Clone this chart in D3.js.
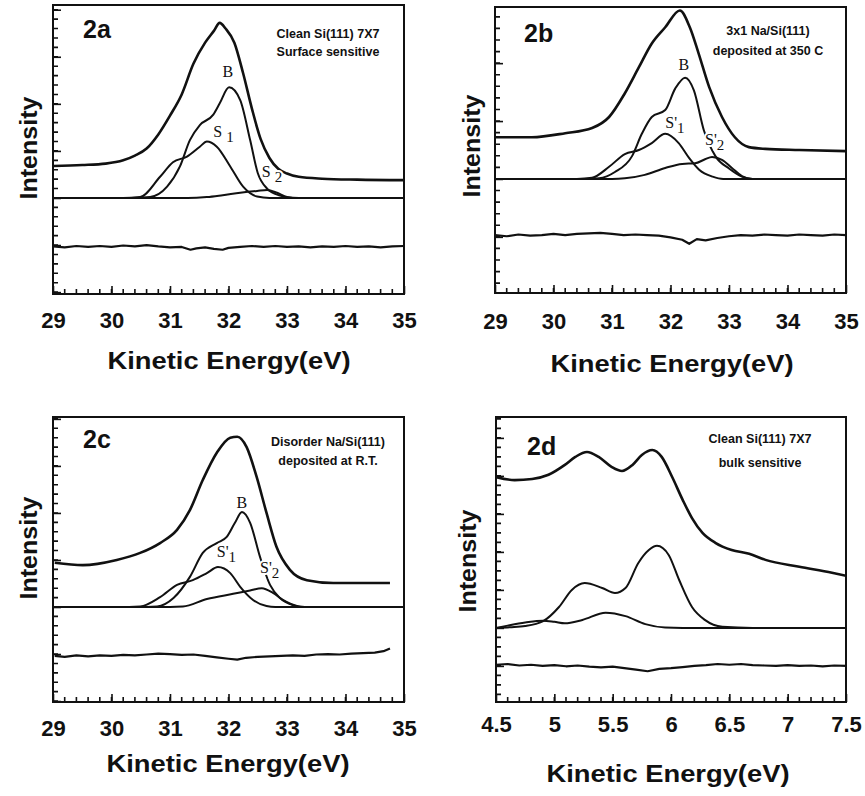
<!DOCTYPE html>
<html>
<head>
<meta charset="utf-8">
<script src="https://cdn.jsdelivr.net/npm/d3@7"></script>
<style>
  body { margin: 0; background: #fff; }
  text, tspan { fill: #111; }
</style>
</head>
<body>
<div id="chart"></div>
<script>
// ---- tick values / labels ----
var ticksSi = [29, 30, 31, 32, 33, 34, 35];
var ticksSiLabels = ["29", "30", "31", "32", "33", "34", "35"];
var ticksBulk = [4.5, 5, 5.5, 6, 6.5, 7, 7.5];
var ticksBulkLabels = ["4.5", "5", "5.5", "6", "6.5", "7", "7.5"];

// ---- 2a : clean Si(111) 7x7, surface sensitive ----
var aTotal = [[29.0,0.68],[29.5,0.7],[29.9,0.73],[30.2,0.8],[30.4,0.9],[30.6,1.05],[30.8,1.35],[31.0,1.75],[31.2,2.2],[31.4,2.85],[31.6,3.3],[31.75,3.55],[31.85,3.72],[31.95,3.6],[32.1,3.3],[32.25,2.65],[32.4,1.9],[32.55,1.25],[32.7,0.85],[32.85,0.62],[33.0,0.52],[33.2,0.45],[33.6,0.41],[34.2,0.39],[35.0,0.38]];
var aB = [[29.0,0],[30.3,0],[30.66,0.02],[30.95,0.24],[31.17,0.67],[31.34,1.23],[31.51,1.55],[31.74,1.77],[31.85,2.01],[32.01,2.35],[32.2,2.08],[32.37,1.23],[32.5,0.53],[32.66,0.2],[32.88,0.05],[33.1,0],[35.0,0]];
var aS1 = [[29.0,0],[30.2,0],[30.49,0.02],[30.83,0.45],[31.05,0.76],[31.29,0.88],[31.51,1.09],[31.63,1.2],[31.8,1.09],[32.03,0.67],[32.25,0.24],[32.49,0.03],[32.7,0],[35.0,0]];
var aS2 = [[29.0,0],[31.3,0],[31.63,0.02],[31.9,0.06],[32.2,0.11],[32.49,0.15],[32.66,0.17],[32.83,0.11],[33.0,0.02],[33.2,0],[35.0,0]];
var aRes = [[29.0,-1.03],[29.2,-1.05],[29.4,-1.02],[29.6,-1.04],[29.8,-1.02],[30.0,-1.04],[30.2,-1.01],[30.4,-1.03],[30.6,-1.0],[30.8,-1.03],[31.0,-1.05],[31.2,-1.04],[31.35,-1.1],[31.45,-1.07],[31.6,-1.05],[31.75,-1.08],[31.9,-1.1],[32.0,-1.06],[32.2,-1.04],[32.4,-1.02],[32.6,-1.04],[32.8,-1.02],[33.0,-1.04],[33.2,-1.03],[33.4,-1.05],[33.6,-1.03],[33.8,-1.04],[34.0,-1.02],[34.2,-1.04],[34.4,-1.03],[34.6,-1.05],[34.8,-1.03],[35.0,-1.02]];
var aPeakLabels = [["B","",31.99,2.57],["S ","1",31.74,1.3],["S ","2",32.57,0.45]];

// ---- 2b : 3x1 Na/Si(111) ----
var bTotal = [[29.0,0.72],[29.63,0.72],[30.2,0.79],[30.66,0.88],[30.95,1.07],[31.22,1.48],[31.46,1.93],[31.68,2.34],[31.91,2.62],[32.16,2.91],[32.33,2.62],[32.48,2.17],[32.66,1.59],[32.88,1.07],[33.1,0.72],[33.34,0.55],[33.62,0.52],[34.2,0.5],[35.0,0.48]];
var bB = [[29.0,0],[30.6,0],[30.78,0.01],[31.05,0.12],[31.34,0.39],[31.51,0.78],[31.68,1.07],[31.91,1.19],[32.08,1.56],[32.25,1.75],[32.4,1.53],[32.57,0.84],[32.77,0.39],[33.0,0.18],[33.22,0.04],[33.4,0],[35.0,0]];
var bS1 = [[29.0,0],[30.4,0],[30.66,0.02],[30.95,0.21],[31.22,0.43],[31.46,0.5],[31.68,0.62],[31.91,0.78],[32.14,0.62],[32.32,0.36],[32.49,0.16],[32.72,0.04],[32.9,0],[35.0,0]];
var bS2 = [[29.0,0],[31.0,0],[31.22,0.01],[31.56,0.07],[31.91,0.19],[32.2,0.26],[32.42,0.27],[32.59,0.34],[32.71,0.38],[32.88,0.33],[33.05,0.19],[33.22,0.05],[33.4,0],[35.0,0]];
var bRes = [[29.0,-0.97],[29.2,-0.99],[29.4,-0.96],[29.6,-0.98],[29.8,-0.97],[30.0,-0.95],[30.2,-0.97],[30.4,-0.95],[30.6,-0.94],[30.8,-0.93],[31.0,-0.95],[31.2,-0.97],[31.4,-0.96],[31.6,-0.97],[31.8,-0.98],[32.0,-1.01],[32.2,-1.05],[32.32,-1.12],[32.45,-1.04],[32.6,-1.06],[32.8,-1.02],[33.0,-0.99],[33.2,-0.97],[33.4,-0.98],[33.6,-0.96],[33.8,-0.97],[34.0,-0.98],[34.2,-0.96],[34.4,-0.97],[34.6,-0.98],[34.8,-0.96],[35.0,-0.97]];
var bPeakLabels = [["B","",32.23,1.88],["S'","1",31.91,0.88],["S'","2",32.59,0.59]];

// ---- 2c : disorder Na/Si(111) ----
var cTotal = [[29.03,0.94],[29.51,0.89],[30.09,1.0],[30.49,1.15],[30.83,1.36],[31.12,1.64],[31.34,2.06],[31.56,2.7],[31.8,3.28],[32.03,3.6],[32.15,3.62],[32.31,3.4],[32.48,2.77],[32.65,2.0],[32.82,1.28],[33.05,0.79],[33.34,0.57],[33.79,0.51],[34.37,0.51],[34.76,0.51]];
var cB = [[29.0,0],[30.6,0],[30.78,0.01],[31.06,0.19],[31.34,0.64],[31.56,1.15],[31.8,1.36],[31.97,1.49],[32.11,1.79],[32.23,2.02],[32.37,1.79],[32.54,1.06],[32.71,0.47],[32.88,0.19],[33.1,0.04],[33.3,0],[35.0,0]];
var cS1 = [[29.0,0],[30.3,0],[30.49,0.01],[30.83,0.21],[31.12,0.47],[31.39,0.57],[31.63,0.72],[31.82,0.85],[32.03,0.72],[32.2,0.43],[32.42,0.15],[32.65,0.02],[32.8,0],[35.0,0]];
var cS2 = [[29.0,0],[31.0,0],[31.22,0.01],[31.63,0.17],[32.08,0.28],[32.37,0.35],[32.57,0.4],[32.76,0.3],[32.93,0.15],[33.17,0.02],[33.3,0],[35.0,0]];
var cRes = [[29.03,-1.04],[29.2,-1.06],[29.4,-1.03],[29.6,-1.05],[29.8,-1.03],[30.0,-1.04],[30.2,-1.02],[30.4,-1.03],[30.6,-1.01],[30.8,-0.99],[31.0,-1.0],[31.2,-1.02],[31.4,-1.01],[31.6,-1.04],[31.8,-1.07],[32.0,-1.1],[32.15,-1.12],[32.3,-1.08],[32.5,-1.06],[32.7,-1.05],[32.9,-1.04],[33.1,-1.03],[33.3,-1.04],[33.5,-1.01],[33.7,-1.0],[33.9,-1.01],[34.1,-0.99],[34.3,-0.98],[34.5,-0.97],[34.65,-0.94],[34.76,-0.88]];
var cPeakLabels = [["B","",32.23,2.1],["S'","1",31.8,1.06],["S'","2",32.54,0.72]];

// ---- 2d : clean Si(111) 7x7, bulk sensitive ----
var dTotal = [[4.5,3.97],[4.66,3.89],[4.81,3.92],[4.95,4.03],[5.09,4.29],[5.18,4.5],[5.28,4.63],[5.38,4.5],[5.49,4.24],[5.58,4.13],[5.67,4.29],[5.75,4.55],[5.84,4.68],[5.92,4.5],[6.01,3.97],[6.1,3.37],[6.18,2.89],[6.27,2.5],[6.38,2.24],[6.52,2.05],[6.67,1.95],[6.81,1.79],[7.1,1.61],[7.38,1.45],[7.5,1.37]];
var dBulk = [[4.5,0],[4.62,0.02],[4.75,0.05],[4.9,0.17],[5.04,0.55],[5.15,1.0],[5.26,1.18],[5.41,1.05],[5.52,0.92],[5.61,1.05],[5.72,1.71],[5.81,2.05],[5.88,2.16],[5.98,1.92],[6.07,1.26],[6.18,0.55],[6.29,0.21],[6.44,0.03],[6.7,0],[7.5,0]];
var dSurf = [[4.5,0],[4.6,0.06],[4.75,0.14],[4.9,0.19],[5.0,0.16],[5.09,0.12],[5.24,0.21],[5.44,0.4],[5.61,0.31],[5.78,0.1],[5.95,0.01],[6.1,0],[7.5,0]];
var dRes = [[4.5,-0.97],[4.6,-0.95],[4.7,-0.99],[4.8,-0.97],[4.9,-1.0],[5.0,-0.98],[5.1,-1.01],[5.2,-0.99],[5.3,-1.02],[5.4,-1.04],[5.5,-1.02],[5.6,-1.06],[5.7,-1.1],[5.8,-1.14],[5.9,-1.08],[6.0,-1.06],[6.1,-1.03],[6.2,-1.0],[6.3,-0.98],[6.4,-0.95],[6.5,-0.97],[6.6,-0.95],[6.7,-0.98],[6.8,-0.99],[6.9,-1.0],[7.0,-0.98],[7.1,-1.0],[7.2,-0.99],[7.3,-1.01],[7.4,-0.99],[7.5,-1.0]];
var dPeakLabels = [];

// ---- layout of the four panels ----
var panels = [
  { tag: "2a", notes: ["Clean Si(111) 7X7", "Surface sensitive"],
    box: {l: 53, r: 404, t: 5, b: 294}, xDom: [29, 35], yDom: [-2.04, 4.1],
    ticks: ticksSi, labels: ticksSiLabels, minorX: 0.2, minorY: 0.2,
    total: aTotal, comps: [aB, aS1, aS2], res: aRes, peaks: aPeakLabels,
    pad: 18, titleY: 369, titleX: 229, intX: 28, intY: 148,
    tagX: 83, tagY: 38, noteX: 328, noteY: [38, 56] },
  { tag: "2b", notes: ["3x1 Na/Si(111)", "deposited at 350 C"],
    box: {l: 495, r: 846, t: 7, b: 293}, xDom: [29, 35], yDom: [-1.97, 2.97],
    ticks: ticksSi, labels: ticksSiLabels, minorX: 0.2, minorY: 0.2,
    total: bTotal, comps: [bB, bS1, bS2], res: bRes, peaks: bPeakLabels,
    pad: 20, titleY: 372, titleX: 672, intX: 471, intY: 146,
    tagX: 524, tagY: 42, noteX: 768, noteY: [35, 55] },
  { tag: "2c", notes: ["Disorder Na/Si(111)", "deposited at R.T."],
    box: {l: 53, r: 404, t: 417, b: 702}, xDom: [29, 35], yDom: [-2.02, 4.04],
    ticks: ticksSi, labels: ticksSiLabels, minorX: 0.2, minorY: 0.2,
    total: cTotal, comps: [cB, cS1, cS2], res: cRes, peaks: cPeakLabels,
    pad: 18, titleY: 772, titleX: 228, intX: 28, intY: 548,
    tagX: 83, tagY: 448, noteX: 328, noteY: [446, 465] },
  { tag: "2d", notes: ["Clean Si(111) 7X7", "bulk sensitive"],
    box: {l: 496, r: 846, t: 417, b: 702}, xDom: [4.5, 7.5], yDom: [-1.95, 5.55],
    ticks: ticksBulk, labels: ticksBulkLabels, minorX: 0.1, minorY: 0.25,
    total: dTotal, comps: [dBulk, dSurf], res: dRes, peaks: dPeakLabels,
    pad: 14, titleY: 782, titleX: 668, intX: 467, intY: 561,
    tagX: 527, tagY: 455, noteX: 760, noteY: [443, 467] }
];

var svg = d3.select("#chart")
              .append("svg")
              .attr("width", 865)
              .attr("height", 796);

var sans = "'Liberation Sans', Arial, Helvetica, sans-serif";

panels.forEach(function (p, i) {
  var x = d3.scaleLinear().domain(p.xDom).range([p.box.l, p.box.r]);
  var y = d3.scaleLinear().domain(p.yDom).range([p.box.b, p.box.t]);
  var g = svg.append("g");

  g.append("clipPath").attr("id", "clip" + i)
    .append("rect")
    .attr("x", p.box.l).attr("y", p.box.t)
    .attr("width", p.box.r - p.box.l).attr("height", p.box.b - p.box.t);

  // minor ticks, pointing into the frame (one path each side)
  var minorX = d3.range(p.xDom[0], p.xDom[1] + 1e-6, p.minorX);
  var minorY = d3.range(Math.ceil(p.yDom[0] / p.minorY) * p.minorY, p.yDom[1], p.minorY);
  var mx = minorX.map(d => `M${x(d)},${p.box.b}v-5`).join("");
  var my = minorY.map(d => `M${p.box.l},${y(d)}h5`).join("");
  g.append("path").attr("d", mx + my)
    .attr("fill", "none").attr("stroke", "#111").attr("stroke-width", 1.6);

  // major ticks with labels
  g.append("g")
    .attr("transform", `translate(0, ${p.box.b})`)
    .call(d3.axisBottom(x).tickValues(p.ticks).tickSize(-8).tickPadding(p.pad)
            .tickFormat((d, k) => p.labels[k]))
    .call(a => a.select(".domain").remove())
    .call(a => a.selectAll("line").attr("stroke", "#111").attr("stroke-width", 1.6))
    .call(a => a.selectAll("text")
                .attr("font-family", sans).attr("font-size", 22)
                .attr("font-weight", "bold").attr("fill", "#111"));
  var majorY = d3.range(Math.ceil(p.yDom[0]), p.yDom[1], 1);
  g.append("g")
    .attr("transform", `translate(${p.box.l}, 0)`)
    .call(d3.axisLeft(y).tickValues(majorY).tickSize(-8).tickFormat(() => ""))
    .call(a => a.select(".domain").remove())
    .call(a => a.selectAll("line").attr("stroke", "#111").attr("stroke-width", 1.6));

  // curves
  var smooth = d3.line().x(d => x(d[0])).y(d => y(d[1])).curve(d3.curveMonotoneX);
  var rough = d3.line().x(d => x(d[0])).y(d => y(d[1]));
  var plot = g.append("g").attr("clip-path", `url(#clip${i})`)
              .attr("fill", "none").attr("stroke", "#111")
              .attr("stroke-linejoin", "round");

  p.comps.forEach(function (c) {
    plot.append("path").attr("d", smooth(c)).attr("stroke-width", 2);
  });
  plot.append("path").attr("d", smooth(p.total)).attr("stroke-width", 2.6);
  plot.append("path").attr("d", rough(p.res)).attr("stroke-width", 2.2);

  // peak labels (serif, with a white halo that breaks the curves)
  p.peaks.forEach(function (k) {
    var t = g.append("text")
      .attr("x", x(k[2])).attr("y", y(k[3]))
      .attr("text-anchor", k[1] ? "start" : "middle")
      .attr("font-family", "'Liberation Serif', 'Times New Roman', serif")
      .attr("font-size", 16).attr("fill", "#111")
      .attr("stroke", "#fff").attr("stroke-width", 4)
      .attr("paint-order", "stroke");
    t.append("tspan").text(k[0]);
    if (k[1]) t.append("tspan").attr("dy", 5).attr("font-size", 15).text(k[1]);
  });

  // frame
  g.append("rect")
    .attr("x", p.box.l).attr("y", p.box.t)
    .attr("width", p.box.r - p.box.l).attr("height", p.box.b - p.box.t)
    .attr("fill", "none").attr("stroke", "#111").attr("stroke-width", 2);

  // texts
  g.append("text").text(p.tag)
    .attr("x", p.tagX).attr("y", p.tagY).attr("fill", "#111")
    .attr("font-family", sans).attr("font-size", 25).attr("font-weight", "bold");

  p.notes.forEach(function (n, k) {
    g.append("text").text(n)
      .attr("x", p.noteX).attr("y", p.noteY[k])
      .attr("text-anchor", "middle").attr("fill", "#111")
      .attr("font-family", "'Liberation Sans Narrow', 'Arial Narrow', " + sans)
      .attr("font-size", 12.5).attr("font-weight", "bold");
  });

  g.append("text").text("Kinetic Energy(eV)")
    .attr("x", p.titleX).attr("y", p.titleY)
    .attr("text-anchor", "middle").attr("fill", "#111")
    .attr("font-family", sans).attr("font-size", 24).attr("font-weight", "bold")
    .attr("textLength", 243).attr("lengthAdjust", "spacingAndGlyphs");

  g.append("text").text("Intensity")
    .attr("transform", `translate(${p.intX + 9}, ${p.intY}) rotate(-90)`)
    .attr("text-anchor", "middle").attr("fill", "#111")
    .attr("font-family", sans).attr("font-size", 24).attr("font-weight", "bold")
    .attr("textLength", 103).attr("lengthAdjust", "spacingAndGlyphs");
});
</script>
</body>
</html>
